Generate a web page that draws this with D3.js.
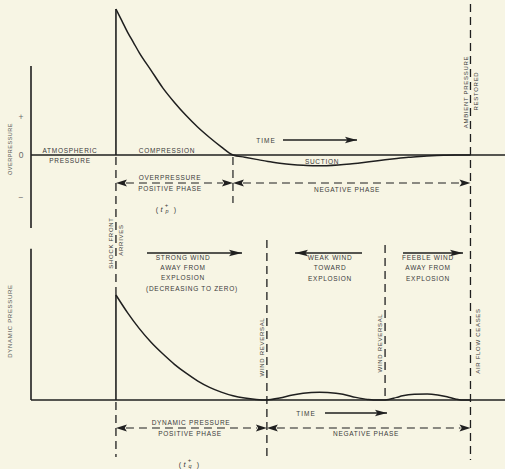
<!DOCTYPE html>
<html>
<head>
<meta charset="utf-8">
<script src="https://cdn.jsdelivr.net/npm/d3@7"></script>
<style>
  html, body { margin: 0; padding: 0; background: #f7f5e4; }
  svg { display: block; }
  text { font-family: "Liberation Sans", "DejaVu Sans", sans-serif; fill: #3a3a3a; }
</style>
</head>
<body>
<svg id="chart" width="505" height="469"></svg>
<script>
// Time is measured in units of the overpressure positive phase (0 = shock front arrives).
const overTime  = [0, 0.05, 0.1, 0.15, 0.2, 0.3, 0.4, 0.5, 0.6, 0.7, 0.8, 0.9, 1.0,
                   1.1, 1.2, 1.3, 1.4, 1.5, 1.6, 1.7, 1.8, 1.9, 2.0, 2.1, 2.2, 2.3,
                   2.4, 2.5, 2.6, 2.7, 2.8, 2.9, 3.03];
// Overpressure, normalised to the peak value at shock arrival.
const overValue = [1.0, 0.92, 0.84, 0.77, 0.70, 0.58, 0.46, 0.36, 0.27, 0.19, 0.12, 0.056, 0,
                   -0.015, -0.03, -0.045, -0.056, -0.065, -0.071, -0.074, -0.073, -0.069, -0.062,
                   -0.053, -0.043, -0.033, -0.024, -0.016, -0.01, -0.005, -0.002, 0, 0];

const dynTime  = [0, 0.1, 0.2, 0.3, 0.4, 0.5, 0.6, 0.7, 0.8, 0.9, 1.0, 1.1, 1.2, 1.29,
                  1.4, 1.51, 1.6, 1.74, 1.88, 1.94, 2.05, 2.15, 2.2, 2.3,
                  2.4, 2.45, 2.55, 2.66, 2.75, 2.83, 2.9, 2.95, 3.03];
// Dynamic pressure, normalised to its peak value at shock arrival.
const dynValue = [1.0, 0.83, 0.68, 0.55, 0.44, 0.34, 0.255, 0.18, 0.12, 0.075, 0.04, 0.018, 0.005, 0,
                  0.02, 0.048, 0.065, 0.075, 0.065, 0.055, 0.025, 0.005, 0, 0,
                  0.025, 0.04, 0.055, 0.058, 0.048, 0.03, 0.01, 0, 0];

// Overpressure axis markers.
const overTickLabels = ["+", "0", "\u2212"];
const overTickValues = [0.26, 0, -0.29];

// Event times.
const tArrival = 0;          // shock front arrives
const tOverEnd = 1.0;        // end of overpressure positive phase
const tReversal1 = 1.29;     // first wind reversal
const tReversal2 = 2.30;     // second wind reversal
const tRestored = 3.03;      // ambient pressure restored / air flow ceases

// Extents.
const timeDomain = [-0.726, 3.325];
const overAxisExtent = [-0.5, 0.61];
const dynAxisExtent = [0, 1.44];

const svg = d3.select("#chart");
const W = 505, H = 469;
svg.append("rect").attr("width", W).attr("height", H).attr("fill", "#f7f5e4");

const x = d3.scaleLinear().domain(timeDomain).range([31, 505]);
const yOver = d3.scaleLinear().domain([0, 1]).range([155, 9]);
const yDyn = d3.scaleLinear().domain([0, 1]).range([400, 295]);

const INK = "#1f1f1f";
const DASH = "8,5";

function vline(g, xp, y1, y2, dashed, w) {
  g.append("line").attr("x1", xp).attr("x2", xp).attr("y1", y1).attr("y2", y2)
    .attr("stroke", INK).attr("stroke-width", w || 1.3)
    .attr("stroke-dasharray", dashed ? DASH : null);
}
function hline(g, y, x1, x2, dashed, w) {
  g.append("line").attr("x1", x1).attr("x2", x2).attr("y1", y).attr("y2", y)
    .attr("stroke", INK).attr("stroke-width", w || 1.3)
    .attr("stroke-dasharray", dashed ? DASH : null);
}
// Filled arrowhead with its tip at (tx, ty); dir = +1 points right, -1 points left.
function head(g, tx, ty, dir, len, half) {
  g.append("path")
    .attr("d", `M${tx},${ty} L${tx - dir * len},${ty - half} L${tx - dir * len * 0.8},${ty} L${tx - dir * len},${ty + half} Z`)
    .attr("fill", INK);
}
function label(g, txt, xp, yp, opts) {
  opts = opts || {};
  const t = g.append("text")
    .attr("x", xp).attr("y", yp)
    .attr("text-anchor", opts.anchor || "middle")
    .attr("dominant-baseline", "central")
    .attr("font-size", opts.size || 6.5)
    .attr("letter-spacing", opts.spacing == null ? 0.7 : opts.spacing)
    .text(txt);
  if (opts.fill) t.style("fill", opts.fill);
  if (opts.rotate) t.attr("transform", `rotate(-90,${xp},${yp})`);
  return t;
}
// Phase span: dashed line with arrowheads at both ends.
function phase(g, t1, t2, y) {
  const a = x(t1), b = x(t2);
  hline(g, y, a + 10, b - 10, true, 1.1);
  head(g, a, y, -1, 11, 3.5);
  head(g, b, y, 1, 11, 3.5);
}
// Solid arrow for time / wind direction.
function arrow(g, x1, x2, y, dir, len) {
  hline(g, y, x1, x2, false, 1.6);
  head(g, dir > 0 ? x2 : x1, y, dir, len || 11, 3.3);
}

const g = svg.append("g");

// ---------- Overpressure panel ----------
vline(g, x(timeDomain[0]), yOver(overAxisExtent[1]), yOver(overAxisExtent[0]), false, 1.6);
hline(g, yOver(0), x(timeDomain[0]), x(timeDomain[1]), false, 1.3);
overTickLabels.forEach((s, i) => label(g, s, 21, yOver(overTickValues[i]), {size: 8.5, spacing: 0, fill: "#6a6a6a"}));
label(g, "OVERPRESSURE", 10, 149, {size: 5.5, spacing: 0.5, rotate: true, fill: "#555"});

const overLine = d3.line().x((d, i) => x(overTime[i])).y(d => yOver(d)).curve(d3.curveMonotoneX);
g.append("path").attr("d", overLine(overValue)).attr("fill", "none")
  .attr("stroke", INK).attr("stroke-width", 1.5);
vline(g, x(tArrival), yOver(0), yOver(overValue[0]), false, 1.6);

label(g, "ATMOSPHERIC", 70, 150);
label(g, "PRESSURE", 70, 160);
label(g, "COMPRESSION", 167, 150.5);
label(g, "SUCTION", 322, 161.5);

label(g, "TIME", 266, 140, {spacing: 1});
arrow(g, 283, 357, 140, 1, 12);

// dashed markers below the zero line
vline(g, x(tOverEnd), yOver(0) + 2, 203, true, 1.2);
phase(g, tArrival, tOverEnd, 183);
phase(g, tOverEnd, tRestored, 183);
label(g, "OVERPRESSURE", 170, 177.5);
label(g, "POSITIVE PHASE", 170, 188.5);
label(g, "NEGATIVE PHASE", 347, 189);

function phaseSymbol(cx, cy, sub) {
  label(g, "(", cx - 9, cy, {size: 7, spacing: 0});
  label(g, "t", cx - 4.5, cy, {size: 7.5, spacing: 0}).attr("font-style", "italic");
  label(g, "+", cx + 0.5, cy - 4.5, {size: 6, spacing: 0});
  label(g, sub, cx + 1, cy + 2, {size: 5.5, spacing: 0}).attr("font-style", "italic");
  label(g, ")", cx + 9, cy, {size: 7, spacing: 0});
}
phaseSymbol(166, 209, "p");

// ---------- Event lines ----------
// shock front arrival: dashed through both panels, solid at the dynamic pressure jump
vline(g, x(tArrival), yOver(0) + 2, yDyn(dynValue[0]), true, 1.3);
vline(g, x(tArrival), yDyn(dynValue[0]), yDyn(0), false, 1.6);
vline(g, x(tArrival), yDyn(0) + 2, 457, true, 1.3);
label(g, "SHOCK FRONT", x(tArrival) - 5, 243, {size: 6, spacing: 0.7, rotate: true});
label(g, "ARRIVES", x(tArrival) + 5.5, 240, {size: 6, spacing: 0.7, rotate: true});

// ambient pressure restored / air flow ceases
vline(g, x(tRestored), 4, 460, true, 1.3);
label(g, "AMBIENT PRESSURE", x(tRestored) - 4.5, 92, {size: 6, spacing: 0.7, rotate: true});
label(g, "RESTORED", x(tRestored) + 5.5, 91, {size: 6, spacing: 0.7, rotate: true});
label(g, "AIR FLOW CEASES", x(tRestored) + 7.5, 341, {size: 6, spacing: 0.7, rotate: true});

// wind reversals
vline(g, x(tReversal1), 240, 457, true, 1.3);
vline(g, x(tReversal2), 245, yDyn(0), true, 1.3);
label(g, "WIND REVERSAL", x(tReversal1) - 5, 347, {size: 6, spacing: 0.7, rotate: true});
label(g, "WIND REVERSAL", x(tReversal2) - 5, 343, {size: 6, spacing: 0.7, rotate: true});

// ---------- Dynamic pressure panel ----------
vline(g, x(timeDomain[0]), yDyn(dynAxisExtent[1]), yDyn(dynAxisExtent[0]), false, 1.6);
hline(g, yDyn(0), x(timeDomain[0]), x(timeDomain[1]), false, 1.3);
label(g, "DYNAMIC PRESSURE", 10, 321, {size: 6, spacing: 0.7, rotate: true, fill: "#555"});

const dynLine = d3.line().x((d, i) => x(dynTime[i])).y(d => yDyn(d)).curve(d3.curveMonotoneX);
g.append("path").attr("d", dynLine(dynValue)).attr("fill", "none")
  .attr("stroke", INK).attr("stroke-width", 1.5);

// wind descriptions
arrow(g, 147, 242, 253, 1, 13);
label(g, "STRONG WIND", 183, 257.5);
label(g, "AWAY FROM", 183, 267.5);
label(g, "EXPLOSION", 183, 277.5);
label(g, "(DECREASING TO ZERO)", 192, 288);

arrow(g, 295, 362, 253, -1, 13);
label(g, "WEAK WIND", 330, 257.5);
label(g, "TOWARD", 330, 267.5);
label(g, "EXPLOSION", 330, 278);

arrow(g, 403, 463, 253, 1, 13);
label(g, "FEEBLE WIND", 428, 257.5);
label(g, "AWAY FROM", 428, 267.5);
label(g, "EXPLOSION", 428, 278);

label(g, "TIME", 306, 413, {spacing: 1});
arrow(g, 325, 387, 413, 1, 12);

phase(g, tArrival, tReversal1, 428);
phase(g, tReversal1, tRestored, 428);
label(g, "DYNAMIC PRESSURE", 191, 422.5);
label(g, "POSITIVE PHASE", 190, 433.5);
label(g, "NEGATIVE PHASE", 366, 433.5);
phaseSymbol(189, 464, "q");
</script>
</body>
</html>
